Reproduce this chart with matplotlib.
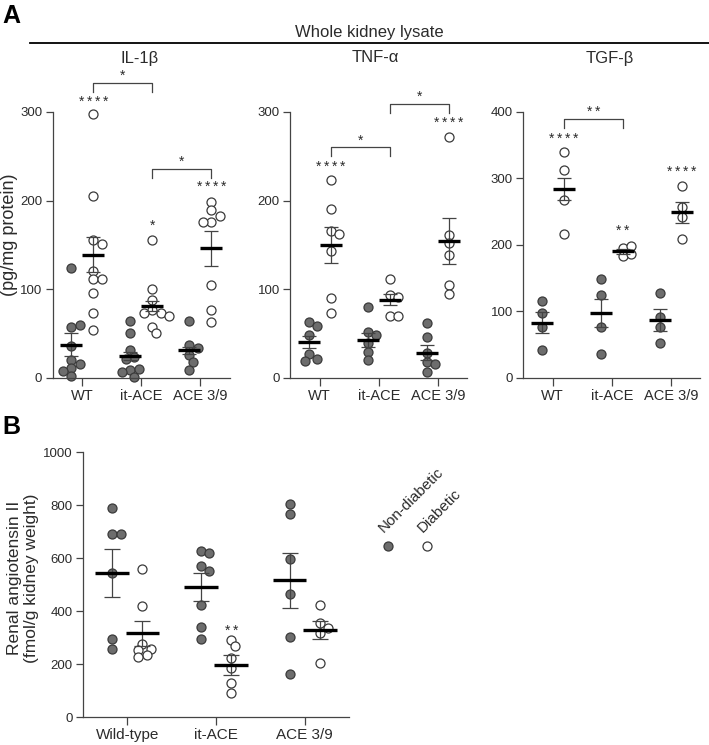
import numpy as np
import matplotlib.pyplot as plt
from matplotlib.lines import Line2D

plt.rcParams['font.family'] = ['Liberation Sans', 'DejaVu Sans']

W, H = 709, 745

grupos = ['WT', 'it-ACE', 'ACE 3/9']
grupos_b = ['Wild-type', 'it-ACE', 'ACE 3/9']

# IL-1β (pg/mg protein)
il1b_nd = [[124, 57, 59, 36, 20, 15, 11, 8, 2],
           [64, 50, 31, 23, 21, 9, 10, 6, 1],
           [64, 37, 34, 26, 18, 9]]
il1b_d = [[298, 205, 156, 151, 120, 111, 112, 96, 73, 54],
          [155, 100, 88, 76, 73, 73, 70, 57, 50],
          [198, 189, 183, 176, 176, 105, 77, 63]]
il1b_media_nd = [37, 24.5, 31]
il1b_sem_nd = [13, 4, 4]
il1b_media_d = [139, 81, 146]
il1b_sem_d = [20, 5.7, 19.5]
il1b_estrellas = ['****', '*', '****']
il1b_estrellas_y = [312, 171, 216]
il1b_corchetes = [(0, 1, '*', 333), (1, 2, '*', 236)]

# TNF-α
tnfa_nd = [[63, 58, 48, 27, 21, 19],
           [80, 52, 48, 39, 29, 20],
           [62, 46, 28, 18, 16, 7]]
tnfa_d = [[223, 191, 166, 162, 143, 90, 73],
          [112, 93, 91, 70, 70],
          [272, 161, 152, 138, 105, 95]]
tnfa_media_nd = [40, 42.5, 28]
tnfa_sem_nd = [7, 8, 8.5]
tnfa_media_d = [150, 88, 154]
tnfa_sem_d = [20, 6, 26]
tnfa_estrellas = ['****', '', '****']
tnfa_estrellas_y = [238, 0, 288]
tnfa_corchetes = [(0, 1, '*', 260), (1, 2, '*', 309)]

# TGF-β
tgfb_nd = [[115, 97, 77, 42],
           [149, 125, 77, 35],
           [128, 91, 77, 52]]
tgfb_d = [[340, 313, 268, 216],
          [196, 199, 183, 186],
          [288, 257, 242, 209]]
tgfb_media_nd = [83, 97, 87]
tgfb_sem_nd = [15.5, 21, 16]
tgfb_media_d = [284, 190, 249]
tgfb_sem_d = [17, 4, 16]
tgfb_estrellas = ['****', '**', '****']
tgfb_estrellas_y = [360, 221, 310]
tgfb_corchetes = [(0, 1, '**', 390)]

# Angiotensina II renal (fmol/g kidney weight)
ang_nd = [[791, 693, 693, 543, 296, 257],
          [628, 620, 572, 553, 423, 341, 293],
          [803, 766, 598, 463, 303, 161]]
ang_d = [[560, 421, 275, 257, 253, 234, 225],
         [291, 268, 224, 184, 130, 92],
         [422, 354, 338, 316, 203]]
ang_media_nd = [545, 491, 516]
ang_sem_nd = [90, 52, 103]
ang_media_d = [316, 197, 329]
ang_sem_d = [48, 37, 33]
ang_estrellas = ['', '**', '']
ang_estrellas_y = [0, 326, 0]

GRIS = '#6d6d6d'
BORDE = '#3a3a3a'
TEXTO = '#2b2b2b'
DIAM = 8.4  # px

fig = plt.figure(figsize=(W / 100, H / 100), dpi=100)


def ejes(izq, arriba, der, abajo):
    return fig.add_axes([izq / W, 1 - abajo / H, (der - izq) / W, (abajo - arriba) / H])


def enjambre(centro, valores, px_x, px_y):
    # reparte los puntos a lo ancho para que no se tapen (tipo beeswarm)
    puestos = []
    xs = []
    paso = DIAM / 2
    for v in valores:
        y = v * px_y
        for k in range(60):
            off = ((k + 1) // 2) * paso * (1 if k % 2 else -1)
            if all(np.hypot(off - a, y - b) >= DIAM * 0.85 for a, b in puestos):
                break
        puestos.append((off, y))
        xs.append(centro + off / px_x)
    return xs


def asteriscos(ax, x, y, s, sep=8.0):
    # cada asterisco por separado, bien espaciados como en GraphPad
    n = len(s)
    for j in range(n):
        dx = (j - (n - 1) / 2) * sep
        ax.annotate('*', (x, y), xytext=(dx * 0.72, 0), textcoords='offset points',
                    ha='center', va='center', fontsize=10, color=TEXTO,
                    annotation_clip=False)


def panel(ax, caja, nd, d, m_nd, s_nd, m_d, s_d, ymax, paso_y, etiquetas, desp,
          estrellas, estrellas_y, corchetes=(), fs_x=10.5, fs_y=9.5, cap=5):
    ancho = caja[2] - caja[0]
    alto = caja[3] - caja[1]
    px_x = ancho / 3
    px_y = alto / ymax
    for i in range(3):
        for serie, media, sem, signo, relleno in [(nd[i], m_nd[i], s_nd[i], -1, True),
                                                  (d[i], m_d[i], s_d[i], 1, False)]:
            c = i + 1 + signo * desp
            xs = enjambre(c, serie, px_x, px_y)
            ax.plot(xs, serie, 'o', ms=6.5, mfc=GRIS if relleno else 'white',
                    mec=BORDE, mew=0.9, ls='none', zorder=2, clip_on=False)
            ax.plot([c - 0.19, c + 0.19], [media, media], color='black', lw=2.4,
                    zorder=4, solid_capstyle='butt')
            ax.errorbar([c], [media], yerr=[sem], fmt='none', ecolor='#444444',
                        elinewidth=0.9, capsize=cap, capthick=0.9, zorder=3)
        if estrellas[i]:
            asteriscos(ax, i + 1 + desp, estrellas_y[i], estrellas[i])
    pata = 9 / px_y
    for a, b, txt, y in corchetes:
        xa, xb = a + 1 + desp, b + 1 + desp
        ax.plot([xa, xa, xb, xb], [y - pata, y, y, y - pata], color='#444444', lw=0.9,
                clip_on=False)
        asteriscos(ax, (xa + xb) / 2, y + 7 / px_y, txt)
    ax.set_xlim(0.5, 3.5)
    ax.set_ylim(0, ymax)
    ax.set_xticks([1, 2, 3])
    ax.set_xticklabels(etiquetas, fontsize=fs_x, color=TEXTO)
    ax.set_yticks(np.arange(0, ymax + 1, paso_y))
    ax.tick_params(axis='y', labelsize=fs_y, labelcolor=TEXTO, length=5, width=0.9,
                   color='#444444', pad=2.5)
    ax.tick_params(axis='x', length=5.5, width=0.9, color='#444444', pad=2.5)
    for lado in ['top', 'right']:
        ax.spines[lado].set_visible(False)
    for lado in ['left', 'bottom']:
        ax.spines[lado].set_color('#444444')
        ax.spines[lado].set_linewidth(0.9)
    ax.patch.set_alpha(0)


caja_il = (52.7, 112, 229.7, 377.7)
caja_tnf = (290.3, 112, 467.3, 377.7)
caja_tgf = (523.3, 112, 700.3, 377.7)
caja_b = (83, 452.3, 349, 717)

ax1 = ejes(*caja_il)
panel(ax1, caja_il, il1b_nd, il1b_d, il1b_media_nd, il1b_sem_nd, il1b_media_d, il1b_sem_d,
      300, 100, grupos, 0.185, il1b_estrellas, il1b_estrellas_y, il1b_corchetes)
ax2 = ejes(*caja_tnf)
panel(ax2, caja_tnf, tnfa_nd, tnfa_d, tnfa_media_nd, tnfa_sem_nd, tnfa_media_d, tnfa_sem_d,
      300, 100, grupos, 0.185, tnfa_estrellas, tnfa_estrellas_y, tnfa_corchetes)
ax3 = ejes(*caja_tgf)
panel(ax3, caja_tgf, tgfb_nd, tgfb_d, tgfb_media_nd, tgfb_sem_nd, tgfb_media_d, tgfb_sem_d,
      400, 100, grupos, 0.185, tgfb_estrellas, tgfb_estrellas_y, tgfb_corchetes)
ax4 = ejes(*caja_b)
panel(ax4, caja_b, ang_nd, ang_d, ang_media_nd, ang_sem_nd, ang_media_d, ang_sem_d,
      1000, 200, grupos_b, 0.17, ang_estrellas, ang_estrellas_y, fs_x=11, fs_y=9.5, cap=6)


def texto(x, y, s, **kw):
    kw.setdefault('color', TEXTO)
    fig.text(x / W, 1 - y / H, s, **kw)


# rótulos de panel y encabezados
texto(2, 16, 'A', fontsize=18, fontweight='bold', color='black', va='center', ha='left')
texto(2, 427, 'B', fontsize=18, fontweight='bold', color='black', va='center', ha='left')
texto(369, 32, 'Whole kidney lysate', fontsize=12, ha='center', va='center')
fig.add_artist(Line2D([30 / W, 1], [1 - 42.7 / H] * 2, transform=fig.transFigure,
                      color='black', lw=1.3))
texto(140, 58, 'IL-1β', fontsize=12, ha='center', va='center')
texto(375, 58, 'TNF-α', fontsize=12, ha='center', va='center')
texto(610, 58, 'TGF-β', fontsize=12, ha='center', va='center')
texto(10, 235, '(pg/mg protein)', fontsize=13, rotation=90, ha='center', va='center')
texto(23, 578, 'Renal angiotensin II\n(fmol/g kidney weight)', fontsize=12.5, rotation=90,
      ha='center', va='center', linespacing=1.2)

# leyenda
for x, relleno, etiqueta in [(387.7, True, 'Non-diabetic'), (427, False, 'Diabetic')]:
    fig.add_artist(Line2D([x / W], [1 - 546 / H], transform=fig.transFigure, marker='o',
                          ms=6.5, mfc=GRIS if relleno else 'white', mec=BORDE, mew=0.9,
                          ls='none'))
    texto(x - 4, 533, etiqueta, fontsize=11, rotation=45, rotation_mode='anchor',
          ha='left', va='baseline')

fig.savefig('out.png', dpi=100)
